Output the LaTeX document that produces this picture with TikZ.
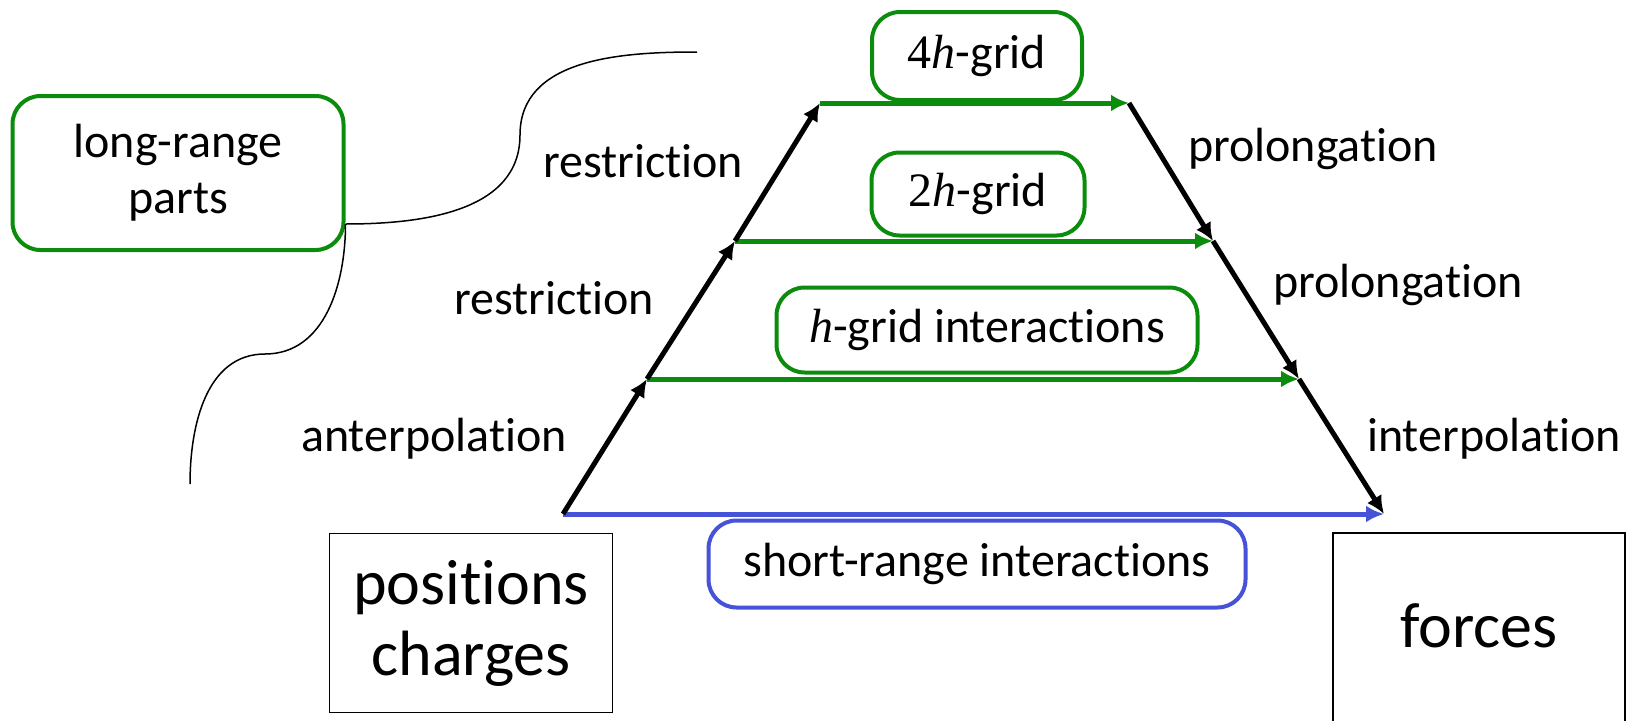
\documentclass[tikz,border=0pt]{standalone}
\usepackage{fontspec}
\setmainfont{Carlito}[Ligatures=NoCommon]
\newfontfamily\serifmath{Liberation Serif}
\newcommand{\gridsym}[1]{{\serifmath #1\itshape h}}
\usepackage{tikz}
\usetikzlibrary{arrows.meta}
\definecolor{gridgreen}{RGB}{12,140,12}
\definecolor{shortblue}{RGB}{70,82,215}

\begin{document}
\begin{tikzpicture}[x=1pt,y=-1pt,
			>={Latex[length=18pt,width=17pt]},
			label text/.style={font=\fontsize{48}{56}\selectfont,anchor=base},
			grid node/.style={draw=gridgreen,line width=4pt,rounded corners=28pt,
				font=\fontsize{48}{56}\selectfont,align=center,inner sep=0pt},
			data node/.style={draw,line width=1.8pt,
				font=\fontsize{64}{71}\selectfont,align=center,inner sep=0pt},
			level arrow/.style={->,line width=5pt},
			brace line/.style={line width=1.5pt}]
			
			\clip (0,0) rectangle (1632,720);
			
			\coordinate (L0) at (563,514);
			\coordinate (L1) at (647,379);
			\coordinate (L2) at (735,241);
			\coordinate (L3) at (820,103);
			\coordinate (R3) at (1129,103);
			\coordinate (R2) at (1213,241);
			\coordinate (R1) at (1299,379);
			\coordinate (R0) at (1384,514);
			
			\node[grid node,minimum width=331pt,minimum height=154pt] (long) at (178,173) {long-range\\parts};
			\node[grid node,minimum width=210pt,minimum height=88pt] (grid4) at (977,56) {\gridsym{4}-grid};
			\node[grid node,minimum width=213pt,minimum height=83pt] (grid2) at (978,194) {\gridsym{2}-grid};
			\node[grid node,minimum width=421pt,minimum height=85pt] (grid1) at (987,330) {\gridsym{}-grid interactions};
			\node[grid node,draw=shortblue,minimum width=537pt,minimum height=87pt] (short) at (977,564) {short-range interactions};
			\node[data node,minimum width=283pt,minimum height=179pt] (input) at (471,623) {positions\\charges};
			\node[data node,minimum width=292pt,minimum height=230pt,text depth=45pt] (output) at (1479,648) {forces};
			
			\node[label text] (res2) at (643,177) {restriction};
			\node[label text] (res1) at (554,314) {restriction};
			\node[label text] (anter) at (434,451) {anterpolation};
			\node[label text] (pro2) at (1313,161) {prolongation};
			\node[label text] (pro1) at (1398,297) {prolongation};
			\node[label text] (inter) at (1494,451) {interpolation};
			
			\coordinate (tip) at ([yshift=-51pt]long.east);
			\coordinate (upper) at (697,52);
			\coordinate (upmid) at (520,135);
			\coordinate (lowmid) at (265,354);
			\coordinate (lower) at (190,484);
			\draw[brace line] (upper) to[out=180,in=90] (upmid) to[out=-90,in=0] (tip);
			\draw[brace line] (tip) to[out=-90,in=0] (lowmid) to[out=180,in=90] (lower);
			
			\draw[level arrow,gridgreen] (L3) -- (R3);
			\draw[level arrow,gridgreen] (L2) -- (R2);
			\draw[level arrow,gridgreen] (L1) -- (R1);
			\draw[level arrow,shortblue] (L0) -- (R0);
			\draw[level arrow] (L0) -- (L1);
			\draw[level arrow] (L1) -- (L2);
			\draw[level arrow] (L2) -- (L3);
			\draw[level arrow] (R3) -- (R2);
			\draw[level arrow] (R2) -- (R1);
			\draw[level arrow] (R1) -- (R0);
		\end{tikzpicture}
\end{document}
